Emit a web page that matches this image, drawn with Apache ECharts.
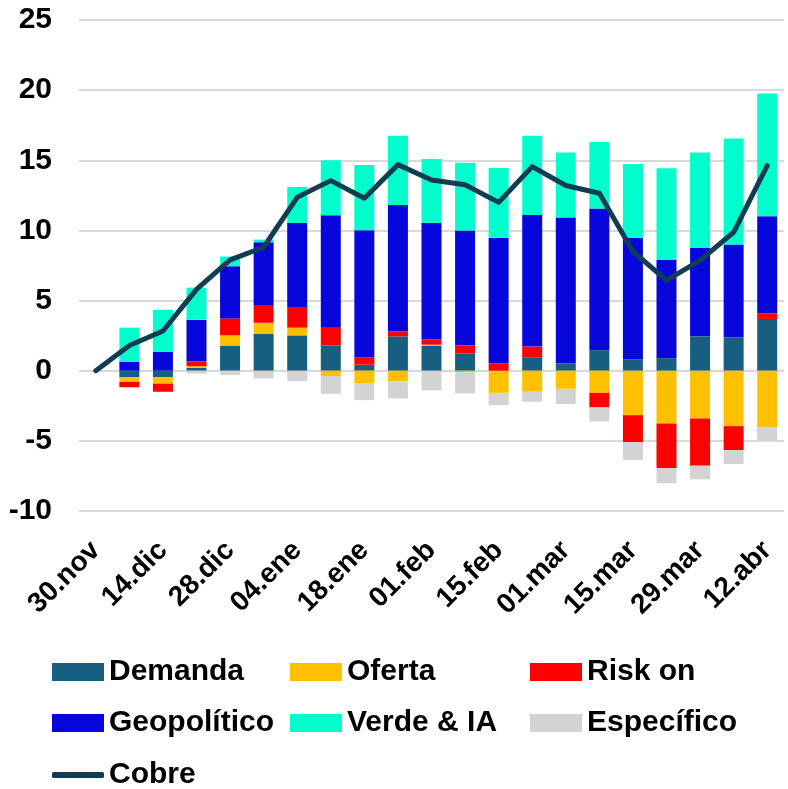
<!DOCTYPE html>
<html>
<head>
<meta charset="utf-8">
<script src="https://cdn.jsdelivr.net/npm/echarts@6/dist/echarts.min.js"></script>
<style>
  html, body { margin: 0; padding: 0; background: #fff; }
  #main { width: 788px; height: 789px; }
</style>
</head>
<body>
<div id="main"></div>
<script>
// semanas (se etiqueta una de cada dos)
const categorias = ["30.nov", "07.dic", "14.dic", "21.dic", "28.dic", "01.ene", "04.ene", "11.ene", "18.ene", "25.ene",
  "01.feb", "08.feb", "15.feb", "22.feb", "01.mar", "08.mar", "15.mar", "22.mar", "29.mar", "05.abr", "12.abr"];

const demanda = [null, -0.45, -0.45, 0.2, 1.79, 2.62, 2.52, 1.79, 0.43, 2.45, 1.79, 1.24, 0, 0.96, 0.51, 1.46, 0.8, 0.89, 2.45, 2.36, 3.69];
const oferta = [null, -0.35, -0.47, 0.12, 0.73, 0.8, 0.55, -0.38, -0.92, -0.75, 0.07, -0.1, -1.58, -1.5, -1.29, -1.58, -3.17, -3.76, -3.4, -3.95, -4.04];
const riskOn = [null, -0.38, -0.58, 0.35, 1.21, 1.21, 1.47, 1.28, 0.53, 0.36, 0.38, 0.55, 0.53, 0.76, 0, -1.04, -1.93, -3.2, -3.37, -1.7, 0.38];
const geopolitico = [null, 0.63, 1.34, 2.97, 3.72, 4.53, 6.0, 8.01, 9.05, 9.01, 8.3, 8.2, 8.94, 9.38, 10.41, 10.1, 8.67, 7.0, 6.29, 6.64, 6.94];
const verdeIA = [null, 2.44, 3.01, 2.28, 0.69, 0.19, 2.56, 3.92, 4.66, 4.93, 4.55, 4.84, 4.98, 5.65, 4.64, 4.74, 5.26, 6.55, 6.82, 7.56, 8.75];
const especifico = [null, 0, 0, -0.2, -0.3, -0.55, -0.74, -1.27, -1.18, -1.23, -1.4, -1.52, -0.87, -0.72, -1.09, -1.0, -1.27, -1.06, -0.97, -1.0, -0.95];
const cobre = [0, 1.8, 2.83, 5.8, 7.9, 8.8, 12.36, 13.55, 12.3, 14.69, 13.6, 13.26, 12.0, 14.55, 13.2, 12.65, 8.5, 6.44, 7.86, 9.87, 14.62];

const fuente = "Liberation Sans";
const colorCobre = "#113d52";

const chart = echarts.init(document.getElementById("main"), null, { renderer: "canvas" });

const barra = (name, data, color) => ({
  name: name,
  type: "bar",
  stack: "total",
  data: data,
  barWidth: 20,
  itemStyle: { color: color },
});

// una leyenda por elemento, para alinear columnas como en el original
const leyenda = (name, left, top, extra) => Object.assign({
  data: [name],
  left: left,
  top: top,
  padding: 0,
  icon: "rect",
  itemWidth: 52,
  itemHeight: 18,
  textStyle: { fontFamily: fuente, fontWeight: "bold", fontSize: 30, color: "#000" },
}, extra || {});

const option = {
  animation: false,
  grid: { left: 79, right: 4, top: 20, bottom: 278 },
  legend: [
    leyenda("Demanda", 52, 657),
    leyenda("Oferta", 290, 657),
    leyenda("Risk on", 530, 657),
    leyenda("Geopolítico", 52, 708),
    leyenda("Verde & IA", 290, 708),
    leyenda("Específico", 530, 708),
    leyenda("Cobre", 52, 760, { icon: "roundRect", itemHeight: 6 }),
  ],
  xAxis: {
    type: "category",
    data: categorias,
    axisLine: { show: false, onZero: false },
    axisTick: { show: false },
    axisLabel: {
      interval: 1,
      rotate: 45,
      margin: 35,
      fontFamily: fuente,
      fontWeight: "bold",
      fontSize: 28,
      color: "#000",
    },
  },
  yAxis: {
    type: "value",
    min: -10,
    max: 25,
    interval: 5,
    axisLine: { show: false },
    axisTick: { show: false },
    splitLine: { lineStyle: { color: "#d9d9d9", width: 2 } },
    axisLabel: {
      margin: 27,
      fontFamily: fuente,
      fontWeight: "bold",
      fontSize: 30,
      color: "#000",
    },
  },
  series: [
    barra("Demanda", demanda, "#175f80"),
    barra("Oferta", oferta, "#ffc000"),
    barra("Risk on", riskOn, "#ff0000"),
    barra("Geopolítico", geopolitico, "#0707db"),
    barra("Verde & IA", verdeIA, "#00ffcc"),
    barra("Específico", especifico, "#d3d3d3"),
    {
      name: "Cobre",
      type: "line",
      data: cobre,
      symbol: "none",
      itemStyle: { color: colorCobre },
      lineStyle: { color: colorCobre, width: 5, cap: "round", join: "round" },
      z: 5,
    },
  ],
};

chart.setOption(option);
</script>
</body>
</html>
